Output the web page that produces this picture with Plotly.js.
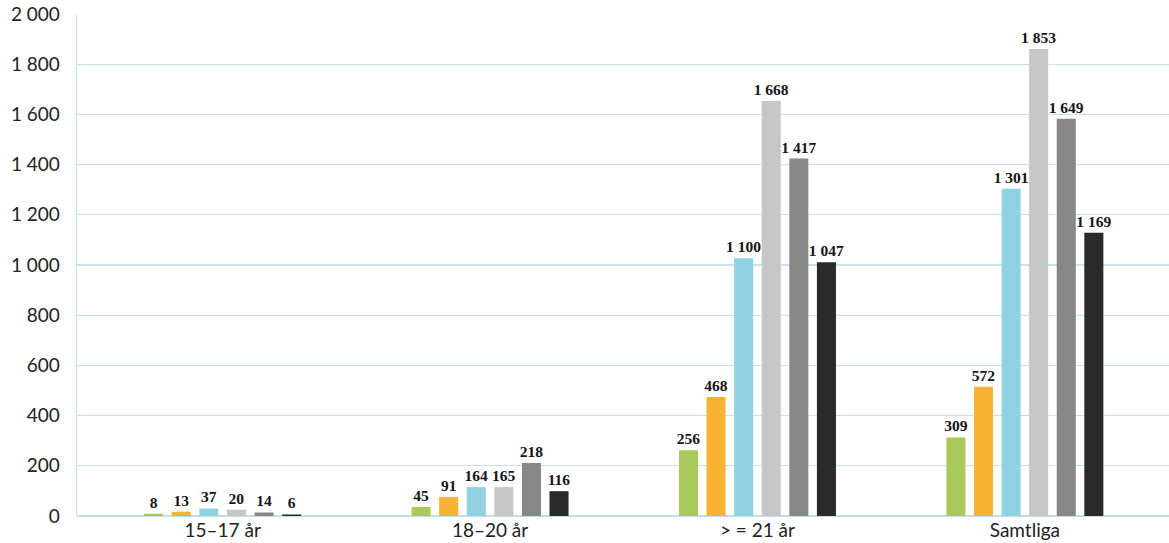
<!DOCTYPE html>
<html>
<head>
<meta charset="utf-8">
<script src="https://cdn.plot.ly/plotly-3.0.1.min.js"></script>
<style>
  html, body { margin: 0; padding: 0; background: #ffffff; }
  #chart { width: 1169px; height: 543px; }
</style>
</head>
<body>
<div id="chart"></div>
<script>
// Categories (x axis)
var categories = ["15\u201317 år", "18\u201320 år", "> = 21 år", "Samtliga"];

// Bar heights as drawn in the picture (one array per series)
var serie1 = [9, 36, 262, 313];
var serie2 = [17, 76, 474, 515];
var serie3 = [30, 115, 1027, 1304];
var serie4 = [25, 115, 1653, 1861];
var serie5 = [14, 211, 1424, 1583];
var serie6 = [6, 99, 1011, 1128];

// Value labels printed above the bars
var labels1 = [8, 45, 256, 309];
var labels2 = [13, 91, 468, 572];
var labels3 = [37, 164, 1100, 1301];
var labels4 = [20, 165, 1668, 1853];
var labels5 = [14, 218, 1417, 1649];
var labels6 = [6, 116, 1047, 1169];

// Y-axis ticks
var yTicks = [0, 200, 400, 600, 800, 1000, 1200, 1400, 1600, 1800, 2000];
var yTickLabels = ["0", "200", "400", "600", "800", "1 000", "1 200", "1 400", "1 600", "1 800", "2 000"];

var series = [serie1, serie2, serie3, serie4, serie5, serie6];
var seriesLabels = [labels1, labels2, labels3, labels4, labels5, labels6];
var colors = ["#a9c95a", "#f8b234", "#90d1e2", "#c6c7c6", "#878786", "#2a2a29"];

function fmt(n) {
  return String(n).replace(/\B(?=(\d{3})+(?!\d))/g, "\u00a0");
}

var traces = series.map(function (vals, i) {
  return {
    type: "bar",
    x: categories,
    y: vals,
    marker: { color: colors[i], line: { width: 0 } },
    text: seriesLabels[i].map(function (v) { return "<b>" + fmt(v) + "</b>"; }),
    textposition: "outside",
    constraintext: "none",
    cliponaxis: false,
    textfont: { family: "Liberation Serif", size: 15.5, color: "#141414" },
    hoverinfo: "skip",
    showlegend: false
  };
});

var layout = {
  width: 1169,
  height: 543,
  margin: { l: 77, r: 0, t: 14, b: 27, pad: 0 },
  paper_bgcolor: "#ffffff",
  plot_bgcolor: "#ffffff",
  barmode: "group",
  bargap: 0.381,
  bargroupgap: 0.31,
  showlegend: false,
  xaxis: {
    type: "category",
    range: [-0.5447, 3.539],
    showgrid: false,
    zeroline: false,
    showline: false,
    ticks: "",
    tickfont: { family: "Lato", size: 19, color: "#222222" },
    ticklabelstandoff: 1,
    fixedrange: true
  },
  yaxis: {
    range: [0, 2000],
    tickmode: "array",
    tickvals: yTicks,
    ticktext: yTickLabels,
    showgrid: true,
    gridcolor: "#c4e5ee",
    gridwidth: 1.3,
    zeroline: true,
    zerolinecolor: "#bde2eb",
    zerolinewidth: 2.5,
    showline: true,
    linecolor: "#bfe3ec",
    linewidth: 1.3,
    ticks: "",
    ticklabelstandoff: 12,
    tickfont: { family: "Lato", size: 19, color: "#222222" },
    fixedrange: true
  }
};

Plotly.newPlot("chart", traces, layout, { displayModeBar: false, staticPlot: true });
</script>
</body>
</html>
